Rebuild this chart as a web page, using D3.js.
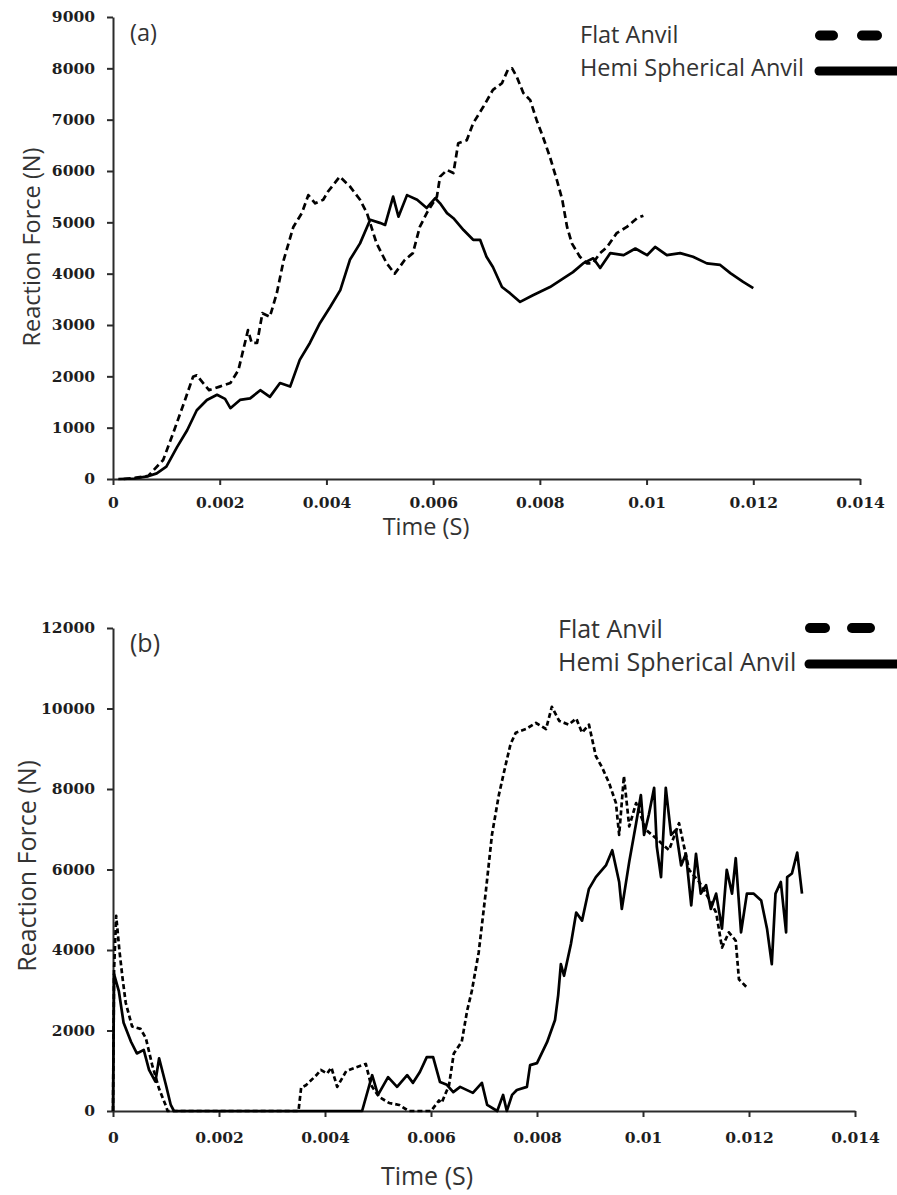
<!DOCTYPE html>
<html>
<head>
<meta charset="utf-8">
<script src="https://cdn.jsdelivr.net/npm/d3@7"></script>
<style>
  html, body { margin: 0; padding: 0; background: #fff; }
  svg { display: block; }
</style>
</head>
<body>
<svg id="chart" width="897" height="1195"></svg>
<script>
// ---------------- DATA ----------------
const seriesNames = ["Flat Anvil", "Hemi Spherical Anvil"];
const panelLabels = ["(a)", "(b)"];
const xTicks = [0, 0.002, 0.004, 0.006, 0.008, 0.01, 0.012, 0.014];
const yTicksA = [0, 1000, 2000, 3000, 4000, 5000, 6000, 7000, 8000, 9000];
const yTicksB = [0, 2000, 4000, 6000, 8000, 10000, 12000];

// Panel (a): [time (s), reaction force (N)]
const flatA = [
  [0.0002,0],[0.0004,20],[0.00066,60],[0.00094,370],[0.00113,900],[0.00135,1540],
  [0.0015,1990],[0.00157,2020],[0.0018,1730],[0.002,1800],[0.0022,1870],[0.00235,2120],
  [0.00253,2900],[0.0026,2650],[0.0027,2650],[0.0028,3230],[0.00294,3160],[0.00307,3620],
  [0.0032,4270],[0.00338,4910],[0.00354,5180],[0.00366,5530],[0.00379,5370],[0.00394,5440],
  [0.00403,5600],[0.00425,5890],[0.00444,5700],[0.00463,5440],[0.00476,5180],[0.00494,4590],
  [0.00513,4200],[0.00528,4000],[0.00547,4270],[0.00562,4400],[0.00575,4910],[0.00588,5180],
  [0.00607,5500],[0.00613,5890],[0.00626,6020],[0.00638,5960],[0.00647,6540],[0.00663,6600],
  [0.00675,6930],[0.00694,7250],[0.00712,7580],[0.00729,7710],[0.0074,7970],[0.00748,8000],
  [0.00757,7830],[0.00769,7520],[0.00782,7380],[0.00794,6990],[0.00806,6660],[0.00819,6270],
  [0.00832,5820],[0.00842,5440],[0.00851,4910],[0.0086,4590],[0.00875,4330],[0.00888,4200],
  [0.00899,4200],[0.00913,4400],[0.00926,4520],[0.00944,4790],[0.00963,4910],[0.00982,5080],
  [0.00994,5130]
];
const hemiA = [
  [0.0001,0],[0.0004,10],[0.00064,50],[0.00082,110],[0.001,240],[0.0012,620],[0.00139,950],
  [0.00157,1340],[0.00176,1540],[0.00195,1640],[0.0021,1560],[0.0022,1380],[0.00238,1540],
  [0.00257,1570],[0.00276,1730],[0.00294,1600],[0.00313,1870],[0.00332,1800],[0.0035,2320],
  [0.00369,2650],[0.00388,3040],[0.00407,3350],[0.00426,3680],[0.00444,4270],[0.00463,4590],
  [0.00482,5050],[0.005,4990],[0.0051,4950],[0.00525,5500],[0.00535,5110],[0.00551,5530],
  [0.0057,5440],[0.00588,5280],[0.00604,5470],[0.00613,5370],[0.00626,5180],[0.00638,5080],
  [0.00657,4850],[0.00675,4660],[0.00688,4660],[0.007,4330],[0.00712,4130],[0.00729,3740],
  [0.00744,3620],[0.00763,3450],[0.00787,3580],[0.00819,3740],[0.00844,3910],[0.00862,4030],
  [0.00881,4200],[0.009,4300],[0.00913,4110],[0.00932,4400],[0.00957,4360],[0.00979,4490],
  [0.01001,4360],[0.01016,4520],[0.01038,4360],[0.01063,4400],[0.01087,4330],[0.01113,4200],
  [0.01138,4170],[0.01157,4010],[0.01181,3840],[0.012,3720]
];

// Panel (b)
const flatB = [
  [0,0],[0.00002,3500],[0.00006,4850],[0.00012,4000],[0.00018,3300],[0.00024,2690],
  [0.00036,2100],[0.00052,2040],[0.00062,1810],[0.00074,1140],[0.00087,550],[0.001,120],
  [0.00103,0],[0.0035,0],[0.00355,580],[0.00364,640],[0.00383,880],[0.00392,1020],
  [0.00404,930],[0.00412,1080],[0.00423,600],[0.0044,990],[0.00458,1080],[0.00477,1170],
  [0.00487,640],[0.00502,350],[0.00521,200],[0.0054,150],[0.00558,0],[0.006,0],[0.00615,260],
  [0.0062,200],[0.00634,640],[0.00643,1430],[0.00658,1720],[0.00668,2480],[0.00677,2980],
  [0.0069,3940],[0.00703,5400],[0.00715,6860],[0.00728,7850],[0.00741,8610],[0.0075,9110],
  [0.0076,9400],[0.00779,9490],[0.00798,9640],[0.00817,9490],[0.00828,10040],[0.00842,9690],
  [0.0086,9600],[0.00874,9750],[0.00885,9400],[0.00898,9600],[0.00911,8820],[0.00923,8530],
  [0.00936,8150],[0.00949,7650],[0.00955,6860],[0.00964,8320],[0.00974,7070],[0.00987,7650],
  [0.01006,6980],[0.01025,6770],[0.01049,6480],[0.01068,7150],[0.01087,5990],[0.01106,5690],
  [0.01119,5400],[0.01138,4930],[0.01149,4060],[0.01162,4440],[0.01175,4230],[0.01181,3270],
  [0.01196,3070]
];
const hemiB = [
  [0,0],[0.00002,3400],[0.00011,2980],[0.0002,2190],[0.00034,1720],[0.00045,1430],
  [0.00058,1520],[0.00068,1020],[0.0008,730],[0.00087,1310],[0.001,640],[0.00109,150],
  [0.00115,0],[0.0047,0],[0.00489,890],[0.005,400],[0.00519,840],[0.00536,600],[0.00555,890],
  [0.00566,700],[0.00579,970],[0.00592,1340],[0.00604,1340],[0.00617,720],[0.0063,650],
  [0.00642,470],[0.00655,600],[0.00679,450],[0.00696,700],[0.00706,150],[0.00725,0],
  [0.00736,400],[0.00743,0],[0.00753,400],[0.00762,520],[0.00781,600],[0.00787,1140],
  [0.008,1190],[0.00819,1710],[0.00834,2260],[0.0084,2880],[0.00845,3650],[0.00851,3360],
  [0.00864,4150],[0.00874,4930],[0.00885,4730],[0.00898,5520],[0.00911,5810],[0.0093,6100],
  [0.00942,6480],[0.00955,5690],[0.0096,5020],[0.00974,6190],[0.00987,7150],[0.00996,7850],
  [0.01002,6860],[0.01011,7360],[0.01021,8030],[0.01026,6570],[0.01034,5810],[0.01043,8030],
  [0.01053,6860],[0.01062,6980],[0.01072,6100],[0.01081,6390],[0.01091,5110],[0.011,6390],
  [0.01109,5400],[0.01119,5610],[0.01128,5020],[0.01138,5400],[0.01149,4530],[0.01158,5990],
  [0.01168,5400],[0.01175,6280],[0.01185,4440],[0.01196,5400],[0.01209,5400],[0.01223,5230],
  [0.01234,4530],[0.01243,3650],[0.0125,5400],[0.0126,5690],[0.0127,4440],[0.01272,5810],
  [0.01281,5900],[0.01291,6420],[0.013,5400]
];

// ---------------- DRAW ----------------
const svg = d3.select("#chart");
const SANS = "'Open Sans', 'DejaVu Sans', sans-serif";
const SERIF = "'DejaVu Serif', serif";
const TXT = "#333";

const panels = [
  { label: panelLabels[0], flat: flatA, hemi: hemiA, yTicks: yTicksA, yMax: 9000,
    left: 113, right: 860, top: 17, bottom: 479, xPad: 12, fs: 23.5, dash: "7,4",
    labelPos: [130, 33], ytitle: [32, 247], xtitle: [426, 527],
    legText: [580, 35, 68], legDash: [[815,838],[857,882]], legDashY: 35.5, legSolid: [815, 897, 71] },
  { label: panelLabels[1], flat: flatB, hemi: hemiB, yTicks: yTicksB, yMax: 12000,
    left: 113, right: 855, top: 628, bottom: 1111, xPad: 15, fs: 25, dash: "5,3",
    labelPos: [130, 643], ytitle: [27, 866], xtitle: [427, 1176],
    legText: [558, 629, 662], legDash: [[805,830],[847,875]], legDashY: 628, legSolid: [805, 897, 664] }
];

panels.forEach(p => {
  const x = d3.scaleLinear().domain([0, 0.014]).range([p.left, p.right]);
  const y = d3.scaleLinear().domain([0, p.yMax]).range([p.bottom, p.top]);
  const g = svg.append("g");

  // axes
  const xa = g.append("g").attr("transform", `translate(0,${p.bottom})`)
    .call(d3.axisBottom(x).tickValues(xTicks).tickSize(6).tickSizeOuter(0).tickPadding(p.xPad)
      .tickFormat(d => String(+d.toFixed(3))));
  const ya = g.append("g").attr("transform", `translate(${p.left},0)`)
    .call(d3.axisLeft(y).tickValues(p.yTicks).tickSize(6).tickSizeOuter(0).tickPadding(12)
      .tickFormat(d3.format("d")));
  [xa, ya].forEach(a => {
    a.select(".domain").attr("stroke", "#2b2b2b").attr("stroke-width", 2);
    a.selectAll(".tick line").attr("stroke", "#2b2b2b").attr("stroke-width", 2);
    a.selectAll(".tick text").attr("fill", "#1e1e1e").style("font-family", SERIF)
      .style("font-weight", "bold").style("font-size", "15.5px");
  });

  // lines
  const line = d3.line().x(d => x(d[0])).y(d => y(d[1]));
  g.append("path").datum(p.hemi).attr("d", line).attr("fill", "none")
    .attr("stroke", "#000").attr("stroke-width", 2.7).attr("stroke-linejoin", "round");
  g.append("path").datum(p.flat).attr("d", line).attr("fill", "none")
    .attr("stroke", "#000").attr("stroke-width", 2.7).attr("stroke-dasharray", p.dash)
    .attr("stroke-linejoin", "round");

  // panel label
  g.append("text").attr("x", p.labelPos[0]).attr("y", p.labelPos[1]).attr("dy", "0.35em")
    .text(p.label).attr("fill", TXT).style("font-family", SANS).style("font-size", p.fs + "px");

  // axis titles
  g.append("text").attr("transform", `translate(${p.ytitle[0]},${p.ytitle[1]}) rotate(-90)`)
    .attr("text-anchor", "middle").attr("dy", "0.35em").text("Reaction Force (N)")
    .attr("fill", TXT).style("font-family", SANS).style("font-size", p.fs + "px");
  g.append("text").attr("x", p.xtitle[0]).attr("y", p.xtitle[1]).attr("text-anchor", "middle")
    .attr("dy", "0.35em").text("Time (S)")
    .attr("fill", TXT).style("font-family", SANS).style("font-size", p.fs + "px");

  // legend
  g.append("text").attr("x", p.legText[0]).attr("y", p.legText[1]).attr("dy", "0.35em")
    .text(seriesNames[0]).attr("fill", TXT).style("font-family", SANS).style("font-size", p.fs + "px");
  g.append("text").attr("x", p.legText[0]).attr("y", p.legText[2]).attr("dy", "0.35em")
    .text(seriesNames[1]).attr("fill", TXT).style("font-family", SANS).style("font-size", p.fs + "px");
  p.legDash.forEach(s => {
    g.append("line").attr("x1", s[0] + 5).attr("x2", s[1] - 5)
      .attr("y1", p.legDashY).attr("y2", p.legDashY)
      .attr("stroke", "#000").attr("stroke-width", 10).attr("stroke-linecap", "round");
  });
  g.append("line").attr("x1", p.legSolid[0] + 4).attr("x2", p.legSolid[1])
    .attr("y1", p.legSolid[2]).attr("y2", p.legSolid[2])
    .attr("stroke", "#000").attr("stroke-width", 9).attr("stroke-linecap", "round");
});
</script>
</body>
</html>
